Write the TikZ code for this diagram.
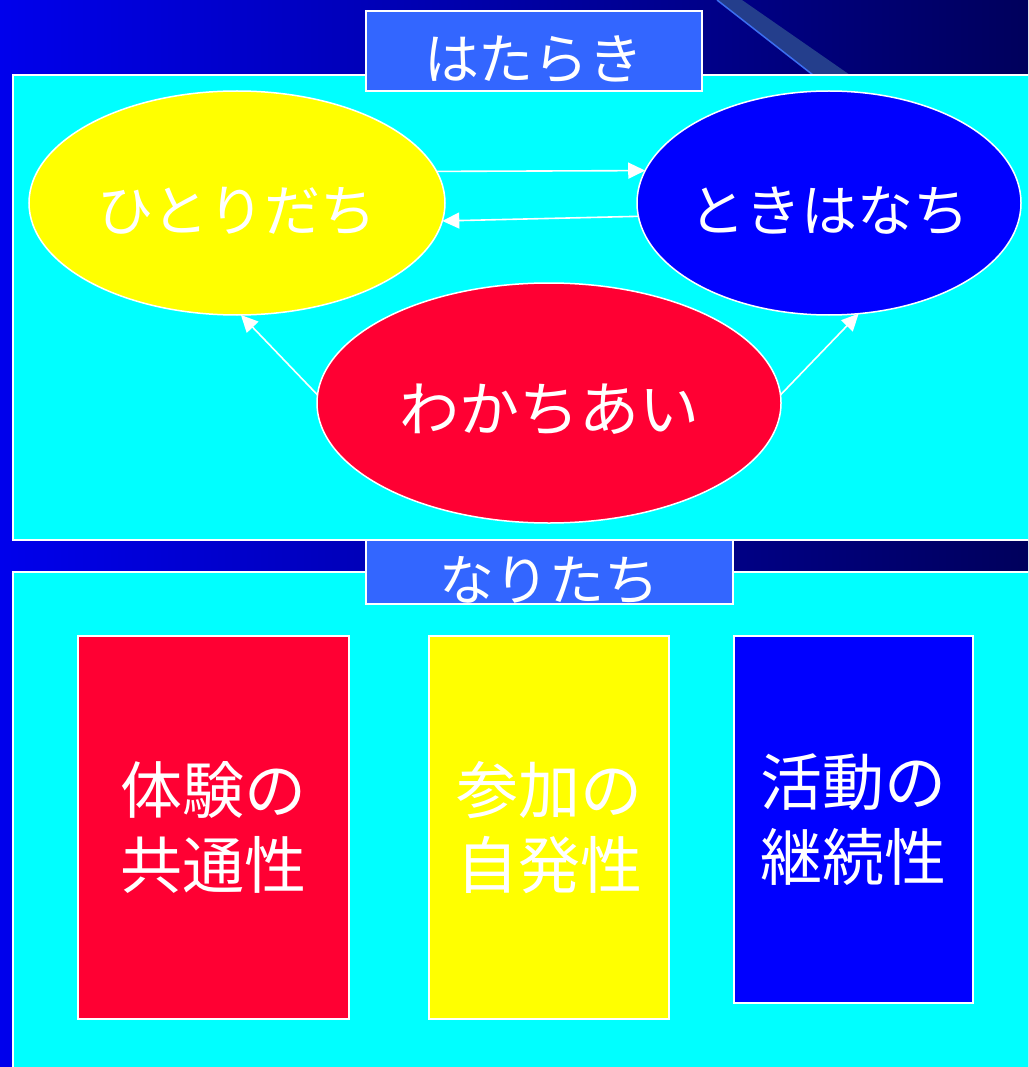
\documentclass[tikz,border=0pt]{standalone}
\usepackage{fontspec}
\setmainfont{Noto Sans CJK JP}
\usetikzlibrary{shapes.geometric,arrows.meta}
\definecolor{bgleft}{RGB}{0,0,236}
\definecolor{bgright}{RGB}{0,0,92}
\definecolor{tagblue}{RGB}{51,102,255}
\definecolor{rouge}{RGB}{255,0,51}
\definecolor{jaune}{RGB}{255,255,0}
\definecolor{bleu}{RGB}{0,0,255}
\definecolor{aqua}{RGB}{0,255,255}
\definecolor{beam}{RGB}{36,62,140}
\definecolor{beamedge}{RGB}{60,110,240}

\begin{document}
\begin{tikzpicture}[x=1pt,y=-1pt,
  every node/.style={text=white,inner sep=0pt,outer sep=0pt},
  panel/.style={draw=white,line width=1.8pt,fill=aqua},
  tagbox/.style={draw=white,line width=1.5pt,fill=tagblue,font=\fontsize{55}{60}\selectfont},
  oval/.style={ellipse,draw=white,line width=1.5pt,font=\fontsize{56}{60}\selectfont,
    execute at begin node=\rule{0pt}{60pt}},
  card/.style={rectangle,draw=white,line width=1.5pt,align=center,font=\fontsize{62}{75}\selectfont,
    execute at begin node=\rule{0pt}{66pt}},
  arr/.style={draw=white,line width=1.6pt,-{Triangle[length=17pt,width=16pt]}}]
  \clip (0,0) rectangle (1028,1067);
  \shade[left color=bgleft,right color=bgright] (0,0) rectangle (1028,1067);
  % beam in the corner
  \fill[beam] (717,0) -- (742,0) -- (850,75) -- (813,75) -- cycle;
  \draw[beamedge,line width=1.5pt] (717,0) -- (813,75);

  % upper panel
  \draw[panel] (13,75) rectangle (1040,540);
  \node[tagbox,minimum width=336,minimum height=80,execute at begin node=\rule{0pt}{60pt}] (hataraki) at (534,51) {はたらき};
  \node[oval,fill=jaune,minimum width=416,minimum height=224] (hitori) at (237,203) {\makebox[0pt]{ひとりだち}};
  \node[oval,fill=bleu,minimum width=384,minimum height=224] (toki) at (829,203) {\makebox[0pt]{ときはなち}};
  \node[oval,fill=rouge,minimum width=464,minimum height=240,font=\fontsize{60}{64}\selectfont] (wakachi) at (549,403) {\makebox[0pt]{わかちあい}};
  \draw[arr] (hitori.9) -- (toki.170.5);
  \draw[arr] (toki.184.8) -- (hitori.355.6);
  \draw[arr] (wakachi.178.5) -- (hitori.-88.5);
  \draw[arr] (wakachi.2) -- (toki.285.7);

  % lower panel
  \draw[panel] (13,572) rectangle (1040,1080);
  \node[tagbox,minimum width=367,minimum height=64] (naritachi) at (549.5,572) {};
  \node[font=\fontsize{55}{60}\selectfont] (naritachi text) at (549.5,580) {なりたち};
  \node[card,fill=rouge,minimum width=271,minimum height=383] (taiken) at (213.5,827.5) {体験の\\共通性};
  \node[card,fill=jaune,minimum width=240,minimum height=383] (sanka) at (549,827.5) {参加の\\自発性};
  \node[card,fill=bleu,minimum width=239,minimum height=367] (katsudo) at (853.5,819.5) {活動の\\継続性};
\end{tikzpicture}
\end{document}
